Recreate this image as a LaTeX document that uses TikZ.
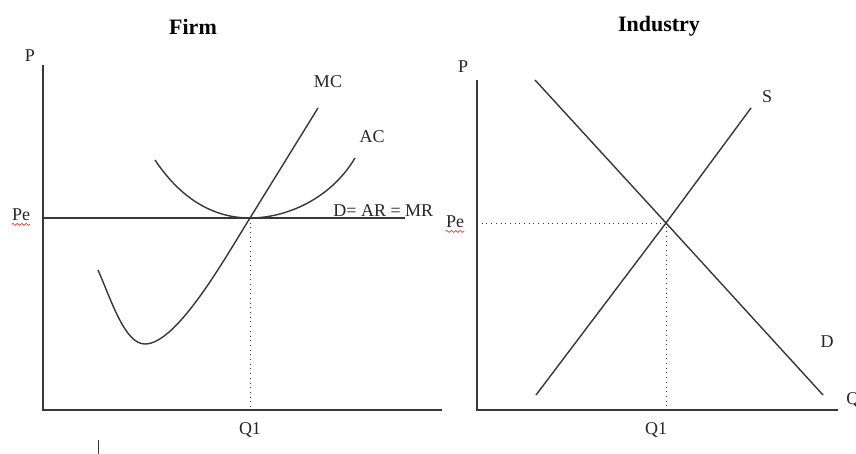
\documentclass[tikz,border=0pt]{standalone}
\usepackage{fontspec}
\setmainfont{Liberation Serif}
\usetikzlibrary{decorations.pathmorphing}
\definecolor{inkgray}{RGB}{55,55,55}
\definecolor{spellred}{RGB}{225,60,60}

\begin{document}
\begin{tikzpicture}[
      x=0.5pt, y=-0.5pt,
      lbl/.style={inner sep=0pt, font=\fontsize{9}{11}\selectfont, text=black!85},
      ttl/.style={inner sep=0pt, font=\fontsize{11}{13}\selectfont\bfseries},
      axis/.style={draw=inkgray, line width=0.8pt},
      curve/.style={draw=inkgray, line width=0.7pt},
      guide/.style={draw=inkgray, line width=0.35pt, dotted},
      spellmark/.style={draw=spellred, line width=0.35pt,
        decorate, decoration={snake, amplitude=0.5pt, segment length=2.2pt}}
    ]
    \useasboundingbox (0,0) rectangle (856,454);

    % firm
    \node[ttl] (firm) at (193,27) {Firm};
    \coordinate (fTop) at (43,65);
    \coordinate (fO) at (43,410);
    \coordinate (fEnd) at (442,410);
    \coordinate (fEq) at (250,218);
    \coordinate (fPe) at (43,218);
    \coordinate (fDR) at (405,218);
    \coordinate (fQ) at (250,410);
    \node[lbl] (fP) at (30,56) {P};
    \node[lbl] (fPelbl) at (21,215) {Pe};
    \draw[spellmark] ([yshift=-1.5pt]fPelbl.south west) -- ([yshift=-1.5pt]fPelbl.south east);
    \node[lbl] (fQ1) at (250,430) {Q1};
    \node[lbl, anchor=west] (dem) at (333,211) {D= AR = MR};
    \node[lbl] (mc) at (328,82) {MC};
    \node[lbl] (ac) at (372,137) {AC};

    \draw[axis] (fTop) -- (fO) -- (fEnd);
    \draw[axis] (fPe) -- (fDR);
    \draw[guide] (fEq) -- (fQ);
    \draw[curve] (98,270) .. controls (112,302) and (125,344) .. (145,344)
      .. controls (177,344) and (225,258) .. (fEq) -- (318,108);
    \draw[curve] (155,160) .. controls (185,205) and (220,218) .. (fEq)
      .. controls (285,218) and (330,200) .. (355,158);
    \draw[draw=inkgray, line width=0.45pt] (98,440) -- (98,454);

    % industry
    \node[ttl] (industry) at (659,26) {Industry};
    \coordinate (iTop) at (477,80);
    \coordinate (iO) at (477,410);
    \coordinate (iEnd) at (838,410);
    \coordinate (iEq) at (666,223);
    \coordinate (iPe) at (477,223);
    \coordinate (iQ) at (666,410);
    \node[lbl] (iP) at (463,67) {P};
    \node[lbl] (iPelbl) at (455,222) {Pe};
    \draw[spellmark] ([yshift=-1.5pt]iPelbl.south west) -- ([yshift=-1.5pt]iPelbl.south east);
    \node[lbl] (iQ1) at (656,430) {Q1};
    \node[lbl, anchor=west] (iQlbl) at (846,400) {Q};
    \node[lbl] (sup) at (767,97) {S};
    \node[lbl] (dmd) at (827,342) {D};

    \draw[axis] (iTop) -- (iO) -- (iEnd);
    \draw[guide] (iPe) -- (iEq) -- (iQ);
    \draw[curve] (535,80) -- (iEq) -- (823,395);
    \draw[curve] (536,395) -- (iEq) -- (751,108);
  \end{tikzpicture}
\end{document}
